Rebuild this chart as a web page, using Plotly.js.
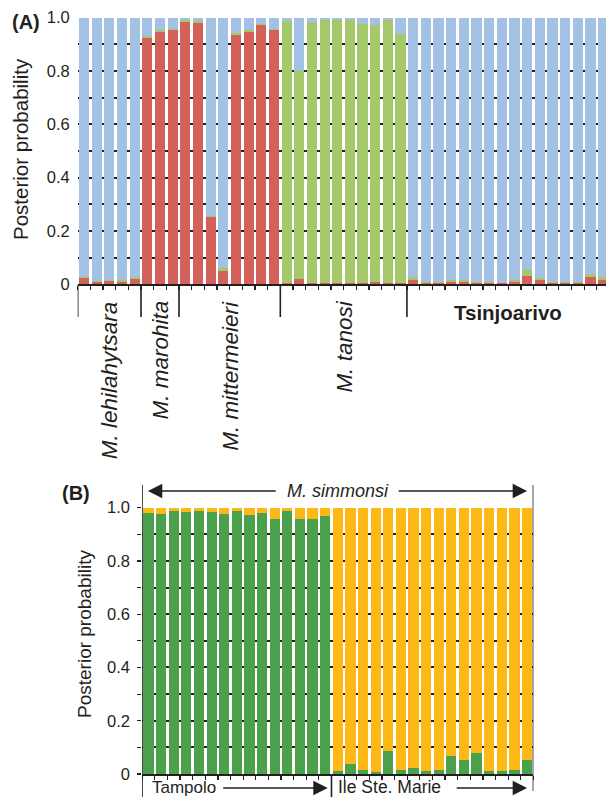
<!DOCTYPE html>
<html>
<head>
<meta charset="utf-8">
<script src="https://cdn.plot.ly/plotly-3.0.1.min.js"></script>
<style>html,body{margin:0;padding:0;background:#fff;}#chart{width:606px;height:797px;}</style>
</head>
<body>
<div id="chart"></div>
<script>
// ---------- Panel A data ----------
var groupsA = ['M. lehilahytsara', 'M. marohita', 'M. mittermeieri', 'M. tanosi', 'Tsinjoarivo'];
var groupCountsA = [5, 3, 8, 10, 16];
var redA = [0.022,0.010,0.012,0.010,0.020,
            0.925,0.948,0.954,
            0.985,0.982,0.251,0.050,0.935,0.948,0.972,0.954,
            0.004,0.020,0.003,0.003,0.004,0.003,0.004,0.010,0.005,0.003,
            0.016,0.006,0.006,0.010,0.010,0.004,0.003,0.003,0.009,0.031,0.015,0.004,0.005,0.005,0.029,0.015];
var greenA = [0.007,0.004,0.004,0.006,0.009,
              0.006,0.005,0.004,
              0.005,0.004,0.005,0.013,0.006,0.005,0.006,0.005,
              0.983,0.780,0.982,0.987,0.986,0.987,0.972,0.962,0.985,0.935,
              0.010,0.004,0.004,0.006,0.005,0.005,0.004,0.003,0.007,0.023,0.009,0.005,0.005,0.004,0.010,0.014];
var blueA = [0.971,0.986,0.984,0.984,0.971,
             0.069,0.047,0.042,
             0.010,0.014,0.744,0.937,0.059,0.047,0.022,0.041,
             0.013,0.200,0.015,0.010,0.010,0.010,0.024,0.028,0.010,0.062,
             0.974,0.990,0.990,0.984,0.985,0.991,0.993,0.994,0.984,0.946,0.976,0.991,0.990,0.991,0.961,0.971];

// ---------- Panel B data ----------
var groupsB = ['Tampolo', 'Ile Ste. Marie'];
var groupCountsB = [15, 16];
var speciesB = 'M. simmonsi';
var greenB = [0.981,0.975,0.989,0.982,0.989,0.982,0.975,0.988,0.972,0.981,0.956,0.988,0.956,0.956,0.970,
              0.012,0.038,0.014,0.008,0.088,0.015,0.022,0.010,0.015,0.069,0.054,0.078,0.010,0.010,0.014,0.054];
var yellowB = [0.019,0.025,0.011,0.018,0.011,0.018,0.025,0.012,0.028,0.019,0.044,0.012,0.044,0.044,0.030,
               0.988,0.962,0.986,0.992,0.912,0.985,0.978,0.990,0.985,0.931,0.946,0.922,0.990,0.990,0.986,0.946];

var yTickVals = [0,0.1,0.2,0.3,0.4,0.5,0.6,0.7,0.8,0.9,1.0];
var yTickText = ['0','','0.2','','0.4','','0.6','','0.8','','1.0'];

// ---------- colours ----------
var cRed = '#d4605a', cLGreen = '#a5c86a', cBlue = '#a2c1e4';
var cDGreen = '#4aa04b', cYellow = '#fdb815';
var ink = '#231f20';
var FONT = 'Liberation Sans, Arial, sans-serif';

var W = 606, H = 797;
function px(x){ return x / W; }
function py(y){ return 1 - y / H; }

var xA = redA.map(function(_, i){ return i; });
var xB = greenB.map(function(_, i){ return i; });

var traces = [
  {type:'bar', x:xA, y:redA, marker:{color:cRed, line:{width:0}}, xaxis:'x', yaxis:'y', hoverinfo:'y'},
  {type:'bar', x:xA, y:greenA, marker:{color:cLGreen, line:{width:0}}, xaxis:'x', yaxis:'y', hoverinfo:'y'},
  {type:'bar', x:xA, y:blueA, marker:{color:cBlue, line:{width:0}}, xaxis:'x', yaxis:'y', hoverinfo:'y'},
  {type:'bar', x:xB, y:greenB, marker:{color:cDGreen, line:{width:0}}, xaxis:'x2', yaxis:'y2', hoverinfo:'y'},
  {type:'bar', x:xB, y:yellowB, marker:{color:cYellow, line:{width:0}}, xaxis:'x2', yaxis:'y2', hoverinfo:'y'}
];

// group boundaries / centres from counts
function bounds(counts){ var b=[-0.5], s=-0.5; counts.forEach(function(c){ s+=c; b.push(s); }); return b; }
var bA = bounds(groupCountsA), bB = bounds(groupCountsB);

var shapes = [], annotations = [];

// panel A separators below axis
var yA0 = py(284.3);
for (var i = 0; i < groupsA.length; i++) {
  shapes.push({type:'line', xref:'x', yref:'paper', x0:bA[i], x1:bA[i], y0:yA0, y1:py(317),
               line:{color:ink, width:1.6}});
}
// panel A group labels
for (var i = 0; i < groupsA.length; i++) {
  var c = (bA[i] + bA[i+1]) / 2;
  if (i < groupsA.length - 1) {
    annotations.push({xref:'x', yref:'paper', x:c, y:py(299), xanchor:'center', yanchor:'top',
      text:'<i>' + groupsA[i] + '</i>', textangle:-90, showarrow:false,
      font:{family:FONT, size:22.5, color:ink}});
  } else {
    annotations.push({xref:'x', yref:'paper', x:c, y:py(312), xanchor:'center', yanchor:'middle',
      text:'<b>' + groupsA[i] + '</b>', showarrow:false,
      font:{family:FONT, size:20.5, color:ink}});
  }
}
annotations.push({xref:'paper', yref:'paper', x:px(25.5), y:py(22), xanchor:'center', yanchor:'middle',
  text:'<b>(A)</b>', showarrow:false, font:{family:FONT, size:20, color:ink}});
annotations.push({xref:'paper', yref:'paper', x:px(20), y:py(149), xanchor:'center', yanchor:'middle',
  text:'Posterior probability', textangle:-90, showarrow:false, font:{family:FONT, size:20.5, color:ink}});

// panel B frame lines
var yB0 = py(774);
shapes.push({type:'line', xref:'x2', yref:'paper', x0:bB[0], x1:bB[0], y0:py(485), y1:py(797), line:{color:ink, width:1.6}});
shapes.push({type:'line', xref:'x2', yref:'paper', x0:bB[2], x1:bB[2], y0:py(485), y1:py(791), line:{color:ink, width:1.6}});
shapes.push({type:'line', xref:'x2', yref:'paper', x0:bB[1], x1:bB[1], y0:yB0, y1:py(797), line:{color:ink, width:1.6}});

annotations.push({xref:'x2', yref:'paper', x:(bB[0]+bB[2])/2, y:py(491), xanchor:'center', yanchor:'middle',
  text:'<i>' + speciesB + '</i>', showarrow:false, font:{family:FONT, size:18, color:ink}});
function arrow(xHead, xTail, yPix){
  return {xref:'x2', yref:'paper', axref:'x2', ayref:'paper', x:xHead, y:py(yPix), ax:xTail, ay:py(yPix),
    text:'', showarrow:true, arrowhead:2, arrowsize:1.8, arrowwidth:1.6, arrowcolor:ink, standoff:0, startstandoff:0};
}
annotations.push(arrow(-0.05, 10.2, 491));
annotations.push(arrow(30.0, 19.7, 491));
annotations.push({xref:'paper', yref:'paper', x:px(150), y:py(787), xanchor:'left', yanchor:'middle',
  text:groupsB[0], showarrow:false, font:{family:FONT, size:17, color:ink}});
annotations.push(arrow(14.2, 5.8, 788));
annotations.push({xref:'paper', yref:'paper', x:px(336), y:py(787), xanchor:'left', yanchor:'middle',
  text:groupsB[1], showarrow:false, font:{family:FONT, size:17.5, color:ink}});
annotations.push(arrow(30.0, 24.3, 788));
annotations.push({xref:'paper', yref:'paper', x:px(76), y:py(493), xanchor:'center', yanchor:'middle',
  text:'<b>(B)</b>', showarrow:false, font:{family:FONT, size:20, color:ink}});
annotations.push({xref:'paper', yref:'paper', x:px(84), y:py(634), xanchor:'center', yanchor:'middle',
  text:'Posterior probability', textangle:-90, showarrow:false, font:{family:FONT, size:19, color:ink}});

var gridCommon = {showgrid:true, gridcolor:ink, gridwidth:2, zeroline:false, fixedrange:true};

var layout = {
  width:W, height:H, margin:{l:0, r:0, t:0, b:0},
  paper_bgcolor:'#ffffff', plot_bgcolor:'#ffffff',
  barmode:'stack', bargap:0.19, showlegend:false,
  font:{family:FONT, color:ink},
  xaxis:{domain:[px(77.7), 1], range:[-0.5, 41.22], tickmode:'linear', tick0:-0.5, dtick:1,
         ticks:'outside', ticklen:4, tickwidth:1.2, tickcolor:ink, showticklabels:false,
         showgrid:false, zeroline:false, showline:true, linecolor:ink, linewidth:1.6, anchor:'y', fixedrange:true},
  yaxis:Object.assign({domain:[py(284.3), py(17.7)], range:[0, 1], tickmode:'array', tickvals:yTickVals, ticktext:yTickText,
         ticks:'', ticklabelstandoff:7, tickfont:{family:FONT, size:16.5, color:ink}, showline:false, anchor:'x'}, gridCommon),
  xaxis2:{domain:[px(142.2), px(533.4)], range:[-0.5, 30.5], tickmode:'linear', tick0:-0.5, dtick:1,
         ticks:'outside', ticklen:4, tickwidth:1.2, tickcolor:ink, showticklabels:false,
         showgrid:false, zeroline:false, showline:true, linecolor:ink, linewidth:1.6, anchor:'y2', fixedrange:true},
  yaxis2:Object.assign({domain:[py(774), py(507.7)], range:[0, 1], tickmode:'array', tickvals:yTickVals, ticktext:yTickText,
         ticks:'outside', ticklen:4, tickwidth:1.2, tickcolor:ink, ticklabelstandoff:4,
         tickfont:{family:FONT, size:16.5, color:ink}, showline:false, anchor:'x2'}, gridCommon),
  shapes:shapes, annotations:annotations
};

Plotly.newPlot('chart', traces, layout, {staticPlot:true, displayModeBar:false});
</script>
</body>
</html>
